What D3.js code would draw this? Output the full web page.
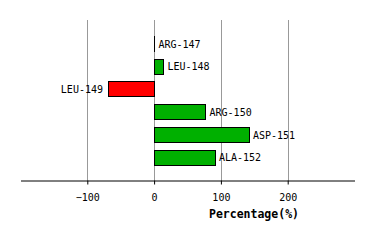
<!DOCTYPE html>
<html>
<head>
<meta charset="utf-8">
<script src="https://cdn.jsdelivr.net/npm/d3@7"></script>
<style>
  body { margin: 0; background: #fff; }
  text { font-family: "DejaVu Sans Mono", monospace; }
</style>
</head>
<body>
<svg width="374" height="240"></svg>
<script>
// residues and their percentage values
const residues = ['ARG-147', 'LEU-148', 'LEU-149', 'ARG-150', 'ASP-151', 'ALA-152'];
const percents = [0.5, 14, -69, 77, 142, 91];
const tickValues = [-100, 0, 100, 200];

function main() {
    const svg = d3.select('svg');
    const data = residues.map(function (r, i) { return { name: r, value: percents[i] }; });

    const xScale = d3.scaleLinear().domain([-200, 300]).range([20.5, 354.5]);
    const yScale = d3.scaleBand().domain(residues).range([32.5, 168.5]).paddingInner(0.33).paddingOuter(0.15);
    const axisY = 180.5;

    // vertical gridlines
    svg.append('g').selectAll('line')
        .data(tickValues)
        .enter().append('line')
        .attr('x1', function (d) { return Math.round(xScale(d)) + 0.5; })
        .attr('x2', function (d) { return Math.round(xScale(d)) + 0.5; })
        .attr('y1', 20)
        .attr('y2', axisY)
        .attr('stroke', '#999')
        .attr('stroke-width', 1);

    // bars (tiny ones keep a sliver of width so the outline still shows)
    svg.append('g').selectAll('rect')
        .data(data)
        .enter().append('rect')
        .attr('x', function (d) { return Math.round(xScale(Math.min(0, d.value))) + 0.5; })
        .attr('y', function (d) { return Math.round(yScale(d.name)) + 0.5; })
        .attr('width', function (d) {
            const w = Math.round(Math.abs(xScale(d.value) - xScale(0)));
            return w < 1 ? 0.01 : w;
        })
        .attr('height', Math.round(yScale.bandwidth()))
        .attr('fill', function (d) { return d.value < 0 ? '#ff0000' : '#00b000'; })
        .attr('stroke', '#000')
        .attr('stroke-width', 1);

    // bar labels
    svg.append('g').selectAll('text')
        .data(data)
        .enter().append('text')
        .attr('x', function (d) { return d.value < 0 ? xScale(d.value) - 5 : xScale(d.value) + 4; })
        .attr('y', function (d) { return yScale(d.name) + yScale.bandwidth() / 2 + 4; })
        .attr('text-anchor', function (d) { return d.value < 0 ? 'end' : 'start'; })
        .attr('font-size', '10px')
        .text(function (d) { return d.name; });

    // x axis
    const axis = d3.axisBottom(xScale).tickValues(tickValues).tickSizeInner(4).tickSizeOuter(0).tickPadding(9);
    const gx = svg.append('g')
        .attr('transform', 'translate(0,' + axisY + ')')
        .call(axis);
    gx.select('.domain').attr('stroke', '#000');
    gx.selectAll('.tick line').attr('stroke', '#000');
    gx.selectAll('text')
        .attr('font-family', '"DejaVu Sans Mono", monospace')
        .attr('font-size', '10px')
        .attr('fill', '#000');

    svg.append('text')
        .attr('x', 254)
        .attr('y', 218)
        .attr('text-anchor', 'middle')
        .attr('font-size', '11.5px')
        .attr('font-weight', 'bold')
        .text('Percentage(%)');
}
main();
</script>
</body>
</html>
